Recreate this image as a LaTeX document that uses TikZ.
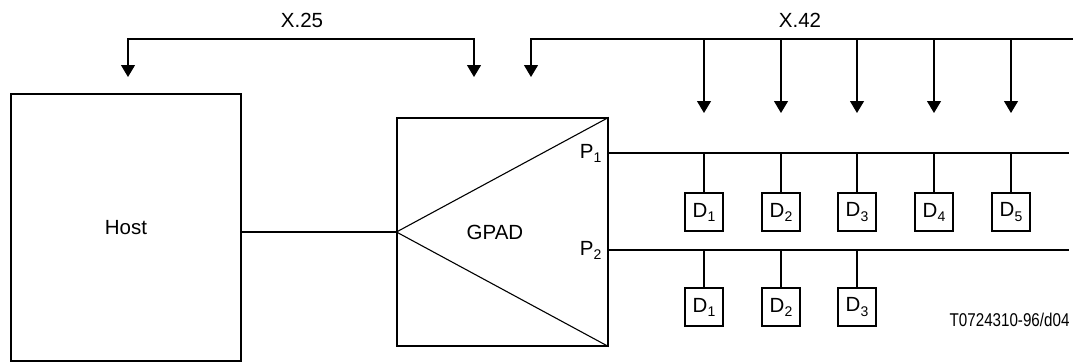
\documentclass[tikz,border=0pt]{standalone}
\usepackage{fontspec}
\setmainfont{Liberation Sans}
\newfontfamily\reffont{Liberation Sans}[FakeStretch=0.82]
\newcommand\Sub[1]{\raisebox{-0.2em}{\fontsize{14}{15}\selectfont #1}}
\usetikzlibrary{arrows.meta}
\begin{document}
\begin{tikzpicture}[x=1pt,y=-1pt,line width=1.1pt,font=\fontsize{20.5}{23}\selectfont,
	>={Triangle[width=14pt,length=12pt]},
	dev/.style={draw,minimum size=38pt,inner sep=0pt}]
	\useasboundingbox (0,0) rectangle (1073,362);
	\def\TopY{39}%总线高度
	\def\TipY{77}
	\def\BusA{153}
	\def\BusB{250}
	% Host und GPAD
	\node[draw,minimum width=230pt,minimum height=267pt] (host) at (126,227.5) {Host};
	\node[draw,minimum width=211pt,minimum height=228pt] (gpad) at (502.5,232) {};
	\node (gtxt) at (495,232) {GPAD};
	\draw (host.east |- gpad.west) -- (gpad.west);
	\draw (gpad.north east) -- (gpad.west) -- (gpad.south east);
	\node[anchor=base east,inner sep=0pt] (p1) at (602,158) {P\Sub{1}};
	\node[anchor=base east,inner sep=0pt] (p2) at (602,255) {P\Sub{2}};
	\coordinate (a1) at (608,\BusA);
	\coordinate (a2) at (1069,\BusA);
	\coordinate (b1) at (608,\BusB);
	\coordinate (b2) at (1069,\BusB);
	\draw (a1) -- (a2);
	\draw (b1) -- (b2);
	% X.25
	\coordinate (xl) at (128,\TopY);
	\coordinate (xr) at (474,\TopY);
	\coordinate (tl) at (128,\TipY);
	\coordinate (tr) at (474,\TipY);
	\draw[<->] (tl) -- (xl) -- (xr) -- (tr);
	\node (l25) at (302,20) {X.25};
	% X.42
	\coordinate (yl) at (531,\TopY);
	\coordinate (yr) at (1073,\TopY);
	\coordinate (ty) at (531,\TipY);
	\draw[->] (yr) -- (yl) -- (ty);
	\node (l42) at (800,20) {X.42};
	\foreach \i/\x in {1/704,2/781,3/857,4/934,5/1011}{
		\node[dev] (da\i) at (\x,212) {D\Sub{\i}};
		\draw (da\i.north) -- (da\i.north |- a1);
		\coordinate (ta\i) at (\x,113);
		\draw[->] (da\i |- yl) -- (ta\i);
	}
	\foreach \i/\x in {1/704,2/781,3/857}{
		\node[dev] (db\i) at (\x,307) {D\Sub{\i}};
		\draw (db\i.north) -- (db\i.north |- b1);
	}
	\node[font=\reffont\fontsize{18.5}{20}\selectfont,anchor=east,inner sep=0pt] (ref) at (1070,320) {T0724310-96/d04};
\end{tikzpicture}
\end{document}
